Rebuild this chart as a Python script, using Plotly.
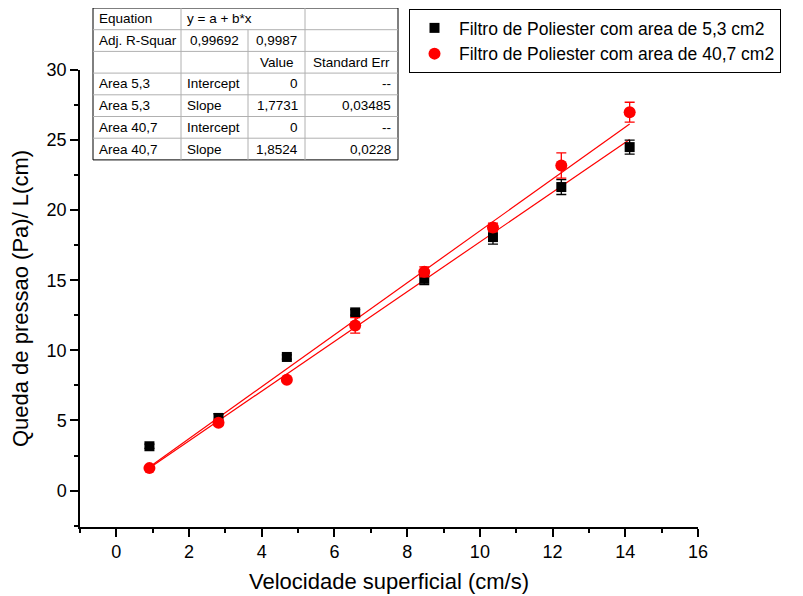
import plotly.graph_objects as go

# data
velocidade = [0.91, 2.81, 4.69, 6.57, 8.47, 10.36, 12.24, 14.12]
queda_5_3 = [3.16, 5.18, 9.53, 12.71, 15.1, 18.08, 21.65, 24.5]
erro_5_3 = [0.15, 0.3, 0.15, 0.2, 0.4, 0.5, 0.53, 0.5]
queda_40_7 = [1.6, 4.83, 7.91, 11.78, 15.6, 18.77, 23.19, 26.99]
erro_40_7 = [0.1, 0.2, 0.15, 0.55, 0.35, 0.3, 0.9, 0.71]
slope_5_3 = 1.7731
slope_40_7 = 1.8524

nomes = ["Filtro de Poliester com area de 5,3 cm2",
         "Filtro de Poliester com area de 40,7 cm2"]

tabela = [
    ["Equation", "y = a + b*x", "", ""],
    ["Adj. R-Squar", "0,99692", "0,9987", ""],
    ["", "", "Value", "Standard Err"],
    ["Area 5,3", "Intercept", "0", "--"],
    ["Area 5,3", "Slope", "1,7731", "0,03485"],
    ["Area 40,7", "Intercept", "0", "--"],
    ["Area 40,7", "Slope", "1,8524", "0,0228"],
]

FONT = "Arial, Liberation Sans, sans-serif"

fig = go.Figure()

# fit lines (through origin, over data range)
x_fit = [velocidade[0], velocidade[-1]]
for s in (slope_5_3, slope_40_7):
    fig.add_trace(go.Scatter(
        x=x_fit, y=[s * x for x in x_fit], mode="lines",
        line=dict(color="#ff0000", width=1.2), showlegend=False,
        hoverinfo="skip",
    ))

fig.add_trace(go.Scatter(
    x=velocidade, y=queda_5_3, mode="markers", name=nomes[0],
    marker=dict(symbol="square", size=10, color="black"),
    error_y=dict(type="data", array=erro_5_3, color="black",
                 thickness=1.3, width=5),
))
fig.add_trace(go.Scatter(
    x=velocidade, y=queda_40_7, mode="markers", name=nomes[1],
    marker=dict(symbol="circle", size=12, color="#ff0000"),
    error_y=dict(type="data", array=erro_40_7, color="#ff0000",
                 thickness=1.3, width=5),
))

axis_common = dict(
    showline=True, linecolor="black", linewidth=1.5, mirror=False,
    ticks="outside", ticklen=8, tickwidth=1.5, tickcolor="black",
    showgrid=False, zeroline=False, automargin=False,
    tickfont=dict(family=FONT, size=18, color="black"),
)

fig.update_xaxes(
    range=[-1, 16], tick0=0, dtick=2,
    minor=dict(ticks="outside", ticklen=4, tickwidth=1.5, tickcolor="black", dtick=1, tick0=0),
    title=dict(text="Velocidade superficial (cm/s)", standoff=12,
               font=dict(family=FONT, size=22, color="black")),
    **axis_common,
)
fig.update_yaxes(
    range=[-2.6, 30], tick0=0, dtick=5,
    minor=dict(ticks="outside", ticklen=4, tickwidth=1.5, tickcolor="black", dtick=2.5, tick0=0),
    title=dict(text="Queda de pressao (Pa)/ L(cm)", standoff=16,
               font=dict(family=FONT, size=22, color="black")),
    **axis_common,
)

# page body adds an 8px margin, so the figure is drawn 8px smaller and offset
OFF = 8
FIG_W, FIG_H = 803 - OFF, 596 - OFF
# plot area edges in reference pixels
L, R, T, B = 80, 698, 70, 527
W, H = R - L, B - T
px = lambda x: (x - L) / W
py = lambda y: (B - y) / H

# results table drawn in paper coordinates
col_x = [93, 181, 248, 305, 398]
row_y = [8 + i * 21.7 for i in range(8)]
shapes = []
shapes.append(dict(type="rect", xref="paper", yref="paper",
                   x0=px(col_x[0]), x1=px(col_x[-1]), y0=py(row_y[-1]), y1=py(row_y[0]),
                   line=dict(color="black", width=1), fillcolor="white", layer="above"))
for y in row_y[1:-1]:
    shapes.append(dict(type="line", xref="paper", yref="paper",
                       x0=px(col_x[0]), x1=px(col_x[-1]), y0=py(y), y1=py(y),
                       line=dict(color="#b0b0b0", width=1), layer="above"))
for ci, x in enumerate(col_x[1:-1], start=1):
    y_top = row_y[1] if ci == 2 else row_y[0]
    shapes.append(dict(type="line", xref="paper", yref="paper",
                       x0=px(x), x1=px(x), y0=py(row_y[-1]), y1=py(y_top),
                       line=dict(color="#b0b0b0", width=1), layer="above"))

annotations = []
for ri, row in enumerate(tabela):
    yc = (row_y[ri] + row_y[ri + 1]) / 2
    for ci, txt in enumerate(row):
        if not txt:
            continue
        if ci == 0 or (ci == 1 and ri != 1):
            xa, anchor = col_x[ci] + 4, "left"
        elif ri in (1, 2):
            xa, anchor = (col_x[ci] + col_x[ci + 1]) / 2, "center"
        else:
            xa, anchor = col_x[ci + 1] - 5, "right"
        annotations.append(dict(
            x=px(xa), y=py(yc), xref="paper", yref="paper", text=txt,
            showarrow=False, xanchor=anchor, yanchor="middle",
            font=dict(family=FONT, size=13.5, color="black"),
        ))

fig.update_layout(
    width=FIG_W, height=FIG_H,
    paper_bgcolor="white", plot_bgcolor="white",
    margin=dict(l=L - OFF, r=803 - R, t=T - OFF, b=596 - B, autoexpand=False),
    font=dict(family=FONT, color="black"),
    showlegend=True,
    legend=dict(
        x=px(409), y=py(9), xanchor="left", yanchor="top",
        bordercolor="black", borderwidth=1, bgcolor="white",
        font=dict(family=FONT, size=17.5, color="black"),
        tracegroupgap=0, itemwidth=39,
    ),
    shapes=shapes,
    annotations=annotations,
)

fig.write_html("out.html")
